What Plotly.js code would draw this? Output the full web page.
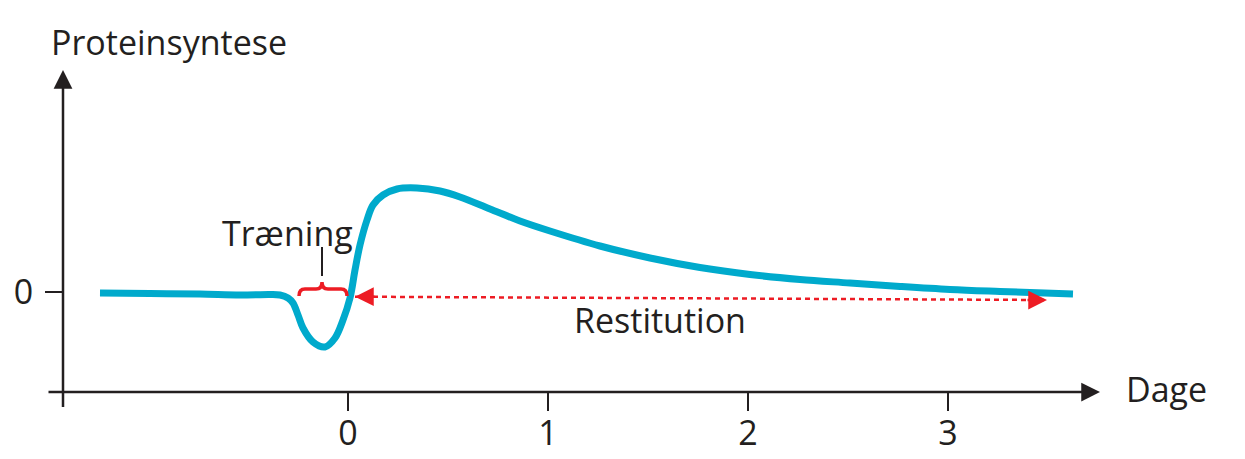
<!DOCTYPE html>
<html>
<head>
<meta charset="utf-8">
<script src="https://cdn.plot.ly/plotly-3.0.1.min.js"></script>
<style>html,body{margin:0;padding:0;background:#fff;}#chart{width:1245px;height:459px;}</style>
</head>
<body>
<div id="chart"></div>
<script>
// ---- data ----
var days = [-1.24, -0.99, -0.74, -0.54, -0.39, -0.34, -0.30, -0.275, -0.25, -0.225, -0.175, -0.115, -0.065, -0.025, 0.01, 0.035, 0.06, 0.095, 0.125, 0.175, 0.245, 0.345, 0.46, 0.56, 0.71, 0.86, 1.01, 1.26, 1.51, 1.76, 2.01, 2.26, 2.51, 2.76, 3.01, 3.26, 3.625];
var synthesis = [-0.01, -0.015, -0.02, -0.03, -0.025, -0.03, -0.06, -0.11, -0.23, -0.36, -0.50, -0.55, -0.46, -0.28, -0.06, 0.22, 0.47, 0.72, 0.87, 0.97, 1.03, 1.04, 1.01, 0.95, 0.83, 0.71, 0.61, 0.46, 0.34, 0.245, 0.175, 0.125, 0.09, 0.055, 0.025, 0.005, -0.02];
var dayTicks = [0, 1, 2, 3];
var dayLabels = ['0', '1', '2', '3'];
var yTicks = [0];
var yLabels = ['0'];
var restX = [0.035, 3.495];
var restY = [-0.047, -0.08];
var trainStart = -0.245, trainEnd = -0.005, trainMid = -0.13;
var labelTraining = 'Træning';
var labelRestitution = 'Restitution';
var labelY = 'Proteinsyntese';
var labelX = 'Dage';

// ---- styles ----
var FONT = 'Open Sans, sans-serif';
var INK = '#231F20';
var CYAN = '#00AACC';
var RED = '#ED1C24';
var FS = 34;

var traces = [
  {x: restX, y: restY, mode: 'lines', line: {color: RED, width: 2.5, dash: '5px,4px'}, hoverinfo: 'skip'},
  {x: days, y: synthesis, mode: 'lines', line: {color: CYAN, width: 7, shape: 'spline', smoothing: 1}, hoverinfo: 'skip'}
];

var bY0 = -0.04, bY1 = 0.03, bY2 = 0.10, q = 0.03;
var bracePath = 'M' + trainStart + ',' + bY0 +
  ' Q' + trainStart + ',' + bY1 + ' ' + (trainStart + q) + ',' + bY1 +
  ' L' + (trainMid - q) + ',' + bY1 +
  ' Q' + trainMid + ',' + bY1 + ' ' + trainMid + ',' + bY2 +
  ' Q' + trainMid + ',' + bY1 + ' ' + (trainMid + q) + ',' + bY1 +
  ' L' + (trainEnd - q) + ',' + bY1 +
  ' Q' + trainEnd + ',' + bY1 + ' ' + trainEnd + ',' + bY0;

function arrow(o) {
  return Object.assign({text: ' ', showarrow: true, standoff: 0, font: {size: 1}, borderpad: 0,
    axref: 'pixel', ayref: 'pixel'}, o);
}

var layout = {
  width: 1245, height: 459,
  margin: {l: 63, r: 145, t: 70, b: 67, pad: 0},
  paper_bgcolor: '#fff', plot_bgcolor: '#fff',
  showlegend: false,
  font: {family: FONT, color: INK, size: FS},
  xaxis: {range: [-1.425, 3.76], showgrid: false, zeroline: false, showline: false,
    ticks: 'outside', ticklen: 18, tickwidth: 2.5, tickcolor: INK, ticklabelstandoff: -7,
    tickvals: dayTicks, ticktext: dayLabels, tickfont: {family: FONT, size: FS, color: INK}, fixedrange: true},
  yaxis: {range: [-1.0, 2.22], showgrid: false, zeroline: false, showline: false,
    ticks: 'outside', ticklen: 17, tickwidth: 2.5, tickcolor: INK, ticklabelstandoff: 5,
    tickvals: yTicks, ticktext: yLabels, tickfont: {family: FONT, size: FS, color: INK}, fixedrange: true},
  shapes: [
    {type: 'path', xref: 'x', yref: 'y', path: bracePath, line: {color: RED, width: 3.5}},
    {type: 'line', xref: 'x', yref: 'y', x0: trainMid, x1: trainMid, y0: 0.16, y1: 0.45, line: {color: INK, width: 2}}
  ],
  annotations: [
    arrow({xref: 'paper', yref: 'paper', x: 1, y: 0, ax: -1052, ay: 0, arrowhead: 2, arrowsize: 1.5, arrowwidth: 2.5, arrowcolor: INK}),
    arrow({xref: 'paper', yref: 'paper', x: 0, y: 1, ax: 0, ay: 338, arrowhead: 2, arrowsize: 1.5, arrowwidth: 2.5, arrowcolor: INK}),
    arrow({xref: 'x', yref: 'y', x: restX[0], y: restY[0], ax: 20, ay: 0, arrowhead: 2, arrowsize: 1.5, arrowwidth: 2.5, arrowcolor: RED}),
    arrow({xref: 'x', yref: 'y', x: restX[1], y: restY[1], ax: -20, ay: 0, arrowhead: 2, arrowsize: 1.5, arrowwidth: 2.5, arrowcolor: RED}),
    {xref: 'x', yref: 'y', x: -0.305, y: 0.59, text: labelTraining, showarrow: false, xanchor: 'center', yanchor: 'middle', font: {size: FS}},
    {xref: 'x', yref: 'y', x: 1.56, y: -0.28, text: labelRestitution, showarrow: false, xanchor: 'center', yanchor: 'middle', font: {size: FS}},
    {xref: 'paper', yref: 'paper', x: 0.1022, y: 1.087, text: labelY, showarrow: false, xanchor: 'center', yanchor: 'middle', font: {size: FS}},
    {xref: 'paper', yref: 'paper', x: 1.0646, y: 0.0093, text: labelX, showarrow: false, xanchor: 'center', yanchor: 'middle', font: {size: FS}}
  ]
};

Plotly.newPlot('chart', traces, layout, {staticPlot: true, displayModeBar: false});
</script>
</body>
</html>
